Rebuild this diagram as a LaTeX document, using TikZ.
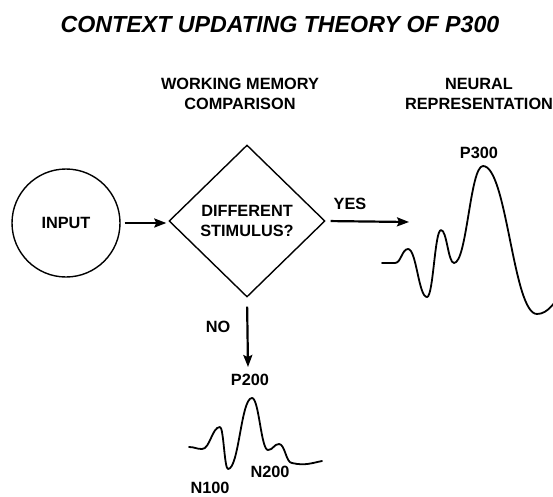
\documentclass[tikz,border=0pt]{standalone}
\usepackage{fontspec}
\setmainfont{Liberation Sans}
\usetikzlibrary{shapes.geometric,arrows.meta}

\tikzset{
  lbl/.style={font=\fontsize{16.3}{19.5}\selectfont\bfseries, align=center, inner sep=0pt},
  titletext/.style={font=\fontsize{23.2}{27}\selectfont\bfseries\itshape, inner sep=0pt},
  outline/.style={draw, line width=1.4pt},
  flow/.style={line width=2.2pt, -{Stealth[length=12pt,width=9pt,inset=2pt]}},
  wave/.style={line width=1.8pt, line join=round, line cap=round}
}

\begin{document}
\begin{tikzpicture}[x=1pt, y=-1pt]
  \useasboundingbox (0,0) rectangle (553,496);

  % title and column headers
  \node[titletext] (title) at (280,25) {CONTEXT UPDATING THEORY OF P300};
  \node[lbl] (wm) at (240,94) {WORKING MEMORY\\COMPARISON};
  \node[lbl] (neural) at (479,94) {NEURAL\\REPRESENTATION};

  % flow chart
  \node[outline, circle, minimum size=108pt, inner sep=0pt, lbl] (input) at (66,223) {INPUT};
  \node[outline, diamond, minimum width=156pt, minimum height=152pt, inner sep=0pt, lbl] (cmp) at (247,221) {DIFFERENT\\[1pt]STIMULUS?};

  \coordinate (p3tip) at (409,222);
  \coordinate (p2tip) at (248,367);

  \draw[flow, shorten <=4pt, shorten >=2pt] (input.east |- 0,223) -- (cmp.west |- 0,223);
  \draw[flow, shorten <=5pt] (cmp.east) -- (p3tip);
  \draw[flow, shorten <=9pt] (cmp.south) -- (p2tip);

  \node[lbl] (yes) at (350,204) {YES};
  \node[lbl] (no) at (218,327) {NO};

  % ERP with a large P300
  \draw[wave] (382,263) -- (395,263)
    .. controls (401,263) and (402,249) .. (408,249)
    .. controls (416.5,249) and (418.5,297) .. (427,297)
    .. controls (433.3,297) and (434.7,230) .. (441,230)
    .. controls (446.9,230) and (448.1,263) .. (454,263)
    .. controls (467,263) and (470,166) .. (483,166)
    .. controls (507,166) and (513,314) .. (537,314)
    .. controls (548,314) and (556,302) .. (566,284);
  \node[lbl] (p300) at (479,153) {P300};

  % ERP without P300
  \draw[wave] (189,447)
    .. controls (195,447) and (196,449) .. (202,449)
    .. controls (210,449) and (212,427) .. (220,427)
    .. controls (223.6,427) and (224.4,469) .. (228,469)
    .. controls (239,469) and (241,398) .. (252,398)
    .. controls (259,398) and (261,450) .. (268,450)
    .. controls (273,450) and (274,444) .. (279,444)
    .. controls (285,444) and (286,463) .. (292,463)
    .. controls (305,466) and (312,463) .. (322,461);
  \node[lbl] (p200) at (250,380) {P200};
  \node[lbl] (n100) at (210,488) {N100};
  \node[lbl] (n200) at (270,472) {N200};
\end{tikzpicture}
\end{document}
